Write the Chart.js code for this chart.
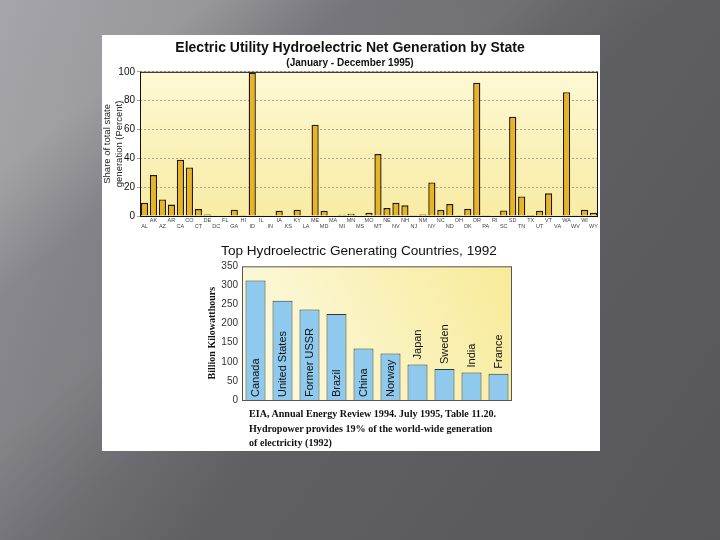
<!DOCTYPE html>
<html>
<head>
<meta charset="utf-8">
<script src="https://cdn.jsdelivr.net/npm/chart.js@4.4.0/dist/chart.umd.min.js"></script>
<style>
  html, body { margin: 0; padding: 0; }
  body {
    width: 720px; height: 540px; overflow: hidden; position: relative;
    background:
      linear-gradient(140deg, rgba(255,255,255,0) 0%, rgba(255,255,255,0.12) 15%, rgba(255,255,255,0) 26%, rgba(255,255,255,0.07) 38%, rgba(255,255,255,0) 50%),
      linear-gradient(125deg, #a6a5ab 0%, #7b7a80 28%, #605f64 52%, #57565b 100%);
  }
  #sheet { position: absolute; left: 102px; top: 35px; width: 498px; height: 416px; background: #fff; }
  #c1 { position: absolute; left: 102px; top: 35px; }
  #c2 { position: absolute; left: 200px; top: 238px; }
  #note {
    position: absolute; left: 249px; top: 407px;
    font: bold 10.1px "Liberation Serif", "DejaVu Serif", serif; line-height: 14.5px; color: #111;
  }
</style>
</head>
<body>
<div id="sheet"></div>
<canvas id="c1" width="498" height="210"></canvas>
<canvas id="c2" width="316" height="172"></canvas>
<div id="note">EIA, Annual Energy Review 1994. July 1995, Table 11.20.<br>Hydropower provides 19% of the world-wide generation<br>of electricity (1992)</div>
<script>
// hydro share of state generation, 1995 (percent)
const states = ["AL","AK","AZ","AR","CA","CO","CT","DE","DC","FL","GA","HI","ID","IL","IN","IA","KS","KY","LA","ME","MD","MA","MI","MN","MS","MO","MT","NE","NV","NH","NJ","NM","NY","NC","ND","OH","OK","OR","PA","RI","SC","SD","TN","TX","UT","VT","VA","WA","WV","WI","WY"];
const stateShare = [9.2, 28.4, 11.5, 7.9, 39, 33.7, 4.8, 1, 0, 0.4, 4.4, 0.5, 99.5, 0.1, 0.3, 3.7, 0, 4.4, 0, 63.3, 3.7, 0.4, 0.9, 1.6, 0, 2.3, 43, 5.5, 9.2, 7.4, 0.2, 1, 23.3, 4.2, 8.3, 0.2, 5, 92.4, 0.5, 0, 3.9, 68.8, 13.6, 0.7, 3.7, 15.7, 0, 85.9, 0.5, 4.4, 2.3];
const shareTicks = [0, 20, 40, 60, 80, 100];

// top hydro generating countries, 1992 (billion kWh)
const countries = ["Canada","United States","Former USSR","Brazil","China","Norway","Japan","Sweden","India","France"];
const countryGen = [313, 260, 237, 225, 135, 122, 93, 81, 72, 69];

const plotBg = {
  id: "plotBg",
  beforeDraw(chart, args, opts) {
    const { ctx, chartArea: a } = chart;
    const g = opts.diagonal
      ? ctx.createLinearGradient(a.left, a.bottom, a.right, a.top)
      : ctx.createLinearGradient(0, a.top, 0, a.bottom);
    g.addColorStop(0, opts.from);
    g.addColorStop(1, opts.to);
    ctx.save();
    ctx.fillStyle = g;
    ctx.fillRect(a.left, a.top, a.right - a.left, a.bottom - a.top);
    ctx.restore();
  },
  afterDraw(chart, args, opts) {
    const { ctx, chartArea: a } = chart;
    ctx.save();
    ctx.strokeStyle = opts.border;
    ctx.lineWidth = 1;
    ctx.strokeRect(a.left + 0.5, a.top + 0.5, a.right - a.left - 1, a.bottom - a.top);
    ctx.restore();
  }
};

new Chart(document.getElementById("c1"), {
  type: "bar",
  data: {
    labels: states,
    datasets: [{
      data: stateShare,
      backgroundColor: "#e8b423",
      borderColor: "#241800",
      borderWidth: 1.4,
      barPercentage: 0.8,
      categoryPercentage: 1
    }]
  },
  options: {
    responsive: false,
    animation: false,
    layout: { padding: { right: 2, left: 0, top: 0, bottom: 0 } },
    plugins: {
      legend: { display: false },
      tooltip: { enabled: false },
      title: {
        display: true,
        text: "Electric Utility Hydroelectric Net Generation by State",
        color: "#111",
        font: { family: "Arial, 'Liberation Sans'", size: 14, weight: "bold" },
        padding: { top: 5, bottom: 0 }
      },
      subtitle: {
        display: true,
        text: "(January - December 1995)",
        color: "#111",
        font: { family: "Arial, 'Liberation Sans'", size: 10, weight: "bold" },
        padding: { top: 0, bottom: 3 }
      },
      plotBg: { from: "#fdf9d4", to: "#f8eba4", border: "#111" }
    },
    scales: {
      x: {
        grid: { display: false, drawTicks: false },
        border: { display: false },
        afterFit: s => { s.height = 29; },
        ticks: {
          autoSkip: false, maxRotation: 0, minRotation: 0, padding: 1,
          color: "#444",
          font: { family: "Arial, 'Liberation Sans'", size: 5.5, lineHeight: 1.1 },
          callback: (v, i) => i % 2 ? [states[i], ""] : ["", states[i]]
        }
      },
      y: {
        min: 0, max: 100,
        afterFit: s => { s.width = 38; },
        afterBuildTicks: s => {
          const t = [];
          for (let v = 0; v <= 100; v += 10) t.push({ value: v });
          s.ticks = t;
        },
        grid: {
          drawOnChartArea: true, tickLength: 3,
          color: c => c.tick && c.tick.value % 20 === 0 ? "#a9a48a" : "#d2cca8"
        },
        border: { display: false, dash: [2, 2] },
        title: {
          display: true,
          text: ["Share of total state", "generation (Percent)"],
          color: "#222",
          font: { family: "Arial, 'Liberation Sans'", size: 9.5 },
          padding: { top: 0, bottom: 0 }
        },
        ticks: {
          padding: 2, color: "#111",
          font: { family: "Arial, 'Liberation Sans'", size: 10 },
          callback: v => shareTicks.includes(v) ? v : ""
        }
      }
    }
  },
  plugins: [plotBg]
});

const countryLabels = {
  id: "countryLabels",
  afterDatasetsDraw(chart) {
    const { ctx } = chart;
    const meta = chart.getDatasetMeta(0);
    ctx.save();
    ctx.fillStyle = "#111";
    ctx.font = "11px Arial, 'Liberation Sans'";
    ctx.textBaseline = "middle";
    ctx.textAlign = "left";
    meta.data.forEach((bar, i) => {
      const y0 = countryGen[i] < 100 ? bar.y - 5 : bar.base - 3;
      ctx.save();
      ctx.translate(bar.x, y0);
      ctx.rotate(-Math.PI / 2);
      ctx.fillText(countries[i], 0, 0);
      ctx.restore();
    });
    ctx.restore();
  }
};

new Chart(document.getElementById("c2"), {
  type: "bar",
  data: {
    labels: countries,
    datasets: [{
      data: countryGen,
      backgroundColor: "#8fc9ee",
      borderColor: "#2c3a38",
      borderWidth: 1,
      barPercentage: 0.74,
      categoryPercentage: 1
    }]
  },
  options: {
    responsive: false,
    animation: false,
    layout: { padding: { left: 6, right: 4, bottom: 0 } },
    plugins: {
      legend: { display: false },
      tooltip: { enabled: false },
      title: {
        display: true,
        text: "Top Hydroelectric Generating Countries, 1992",
        color: "#111",
        font: { family: "Arial, 'Liberation Sans'", size: 13.6, weight: "normal" },
        padding: { top: 5, bottom: 7 }
      },
      plotBg: { diagonal: true, from: "#fcfbe6", to: "#f8ea98", border: "#555" }
    },
    scales: {
      x: { display: false },
      y: {
        min: 0, max: 350,
        afterFit: s => { s.width = 36; },
        grid: { display: false, drawTicks: false },
        border: { display: false },
        title: {
          display: true,
          text: "Billion Kilowatthours",
          color: "#111",
          font: { family: "'Liberation Serif', 'DejaVu Serif', serif", size: 10, weight: "bold" },
          padding: { top: 0, bottom: 0 }
        },
        ticks: {
          stepSize: 50, padding: 4, color: "#333",
          font: { family: "Arial, 'Liberation Sans'", size: 10 }
        }
      }
    }
  },
  plugins: [plotBg, countryLabels]
});
</script>
</body>
</html>
